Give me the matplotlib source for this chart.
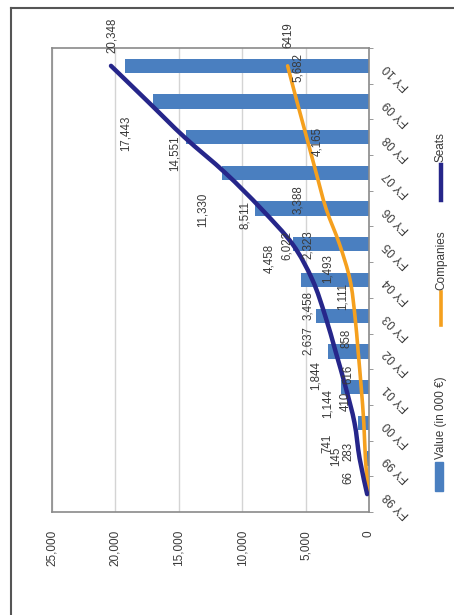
import matplotlib
matplotlib.use("Agg")
from matplotlib import pyplot as plt
from matplotlib.path import Path
from matplotlib.patches import PathPatch, Rectangle
from matplotlib.lines import Line2D
import numpy as np

plt.rcParams["font.family"] = ["Liberation Sans", "DejaVu Sans"]

#DATA (chart is drawn turned on its side, like the scan):

years = ["FY 98", "FY 99", "FY 00", "FY 01", "FY 02", "FY 03", "FY 04",
         "FY 05", "FY 06", "FY 07", "FY 08", "FY 09", "FY 10"]
value = [0, 145, 870, 2200, 3250, 4200, 5400, 6000, 9000, 11590, 14440, 17060, 19210]
companies = [66, 283, 410, 616, 858, 1111, 1493, 2323, 3388, 4165, 4920, 5682, 6419]
seats = [145, 741, 1144, 1844, 2637, 3458, 4458, 6022, 8511, 11330, 14551, 17443, 20348]

companies_labels = ["66", "283", "410", "616", "858", "1,111", "1,493", "2,323",
                    "3,388", "4,165", "", "5,682", "6419"]
seats_labels = ["145", "741", "1,144", "1,844", "2,637", "3,458", "4,458", "6,022",
                "8,511", "11,330", "14,551", "17,443", "20,348"]
value_ticks = [0, 5000, 10000, 15000, 20000, 25000]

# label offsets from their point, in pixels (dx right, dy down)
seats_off = [(-31, -38), (-32, -15), (-27, -19), (-30, -12), (-28, -11), (-17, -10),
             (-43, -22), (-6, 1), (-16, 6), (-23, 37), (-10, 16), (-22, 32), (1, -31)]
comp_off = [(-20, -17), (-17, -7), (-18, -21), (-13, -13), (-12, -13), (-12, -19),
            (-22, -11), (-32, 0), (-28, -9), (1, -31), (0, 0), (1, -34), (1, -31)]

W, H = 454, 615
col_bar = "#4a7fc0"
col_comp = "#f5a01e"
col_seat = "#26268a"
col_txt = "#3a3a3a"


def smooth(xs, ys):
    pts = np.column_stack([xs, ys]).astype(float)
    n = len(pts)
    verts = [pts[0]]
    codes = [Path.MOVETO]
    for i in range(n - 1):
        p0 = pts[i - 1] if i > 0 else pts[i]
        p1 = pts[i]
        p2 = pts[i + 1]
        p3 = pts[i + 2] if i + 2 < n else pts[i + 1]
        verts += [p1 + (p2 - p0) / 6, p2 - (p3 - p1) / 6, p2]
        codes += [Path.CURVE4] * 3
    return Path(verts, codes)


fig = plt.figure(figsize=(W / 100, H / 100), dpi=100)
fig.patch.set_facecolor("white")

# scan border
fig.add_artist(Line2D([11 / W, 11 / W], [1 - 8 / H, 0], color="#555555", lw=1.5))
fig.add_artist(Line2D([11 / W, 1], [1 - 8 / H, 1 - 8 / H], color="#555555", lw=1.5))

ax = fig.add_axes([52 / W, 1 - 512 / H, (369 - 52) / W, (512 - 48) / H])
pos = np.arange(len(years))

ax.barh(pos, value, height=0.4, color=col_bar, zorder=2)
ax.add_patch(PathPatch(smooth(companies, pos), fill=False, ec=col_comp, lw=2.6,
                       capstyle="round", zorder=3))
ax.add_patch(PathPatch(smooth(seats, pos), fill=False, ec=col_seat, lw=3.2,
                       capstyle="round", zorder=4))

for i in range(len(years)):
    if seats_labels[i]:
        dx, dy = seats_off[i]
        ax.annotate(seats_labels[i], (seats[i], pos[i]), xytext=(dx, -dy),
                    textcoords="offset pixels", rotation=90, ha="center", va="center",
                    fontsize=8.3, color=col_txt, zorder=5)
    if companies_labels[i]:
        dx, dy = comp_off[i]
        ax.annotate(companies_labels[i], (companies[i], pos[i]), xytext=(dx, -dy),
                    textcoords="offset pixels", rotation=90, ha="center", va="center",
                    fontsize=8.3, color=col_txt, zorder=5)

ax.set_xlim(25000, 0)
ax.set_ylim(-0.5, len(years) - 0.5)
ax.set_xticks(value_ticks)
ax.set_xticklabels(["{:,}".format(v) for v in value_ticks])
ax.tick_params(axis="x", length=0, pad=13, labelrotation=90, labelsize=8.5, labelcolor=col_txt)
ax.grid(axis="x", color="#d4d4d4", lw=1, zorder=0)
ax.set_axisbelow(True)

ax.yaxis.tick_right()
ax.set_yticks(pos)
ax.set_yticklabels(years)
ax.set_yticks(np.arange(len(years) + 1) - 0.5, minor=True)
ax.tick_params(axis="y", which="major", length=0, pad=12, labelsize=8.5, labelcolor=col_txt)
ax.tick_params(axis="y", which="minor", length=3, color="#888888", right=True, left=False)
for lab in ax.get_yticklabels():
    lab.set_rotation(135)
    lab.set_rotation_mode("anchor")
    lab.set_ha("right")
    lab.set_va("center")

for s in ax.spines.values():
    s.set_color("#8a8a8a")
    s.set_linewidth(1.2)

# legend, turned like the chart
fig.add_artist(Rectangle((435 / W, 1 - 491 / H), 8 / W, 29 / H, color=col_bar))
fig.text(441 / W, 1 - 459 / H, "Value (in 000 \u20ac)", rotation=90, ha="center", va="bottom",
         fontsize=8.5, color=col_txt)
fig.add_artist(Line2D([441 / W, 441 / W], [1 - 325 / H, 1 - 292 / H], color=col_comp, lw=2.6))
fig.text(441 / W, 1 - 290 / H, "Companies", rotation=90, ha="center", va="bottom",
         fontsize=8.5, color=col_txt)
fig.add_artist(Line2D([441 / W, 441 / W], [1 - 200 / H, 1 - 165 / H], color=col_seat, lw=3.2))
fig.text(441 / W, 1 - 162 / H, "Seats", rotation=90, ha="center", va="bottom",
         fontsize=8.5, color=col_txt)

plt.savefig("out.png", dpi=100)
plt.close()
